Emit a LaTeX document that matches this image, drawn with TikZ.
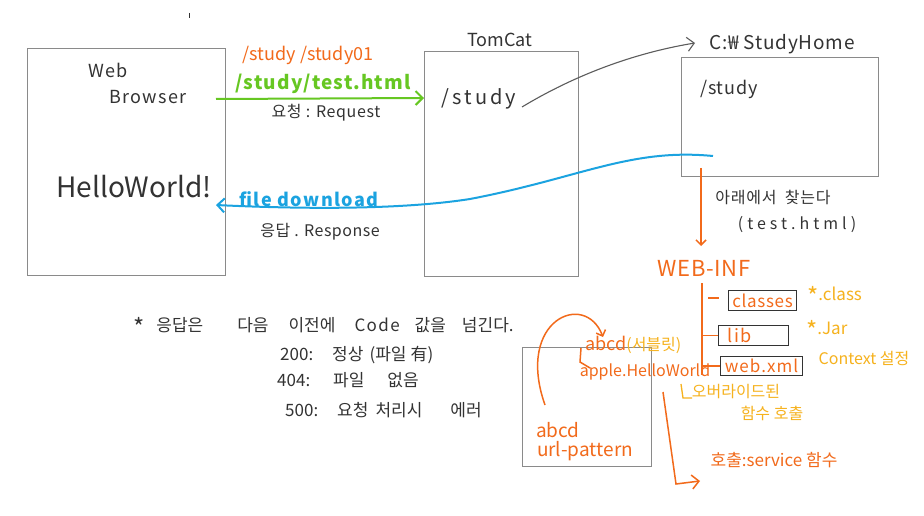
\documentclass[tikz,border=0pt]{standalone}
\usepackage{fontspec}
\newfontfamily\kr{Noto Sans CJK KR}
\usetikzlibrary{arrows.meta}
\definecolor{org}{HTML}{F26A1B}
\definecolor{grn}{HTML}{66C722}
\definecolor{blu}{HTML}{1BA3E0}
\definecolor{ylw}{HTML}{F6B21E}
\definecolor{boxgray}{HTML}{8A8A8A}
\definecolor{ink}{HTML}{333333}
\newcommand{\fs}[1]{\fontsize{#1}{#1}\selectfont}
\newcommand{\ls}[1]{\addfontfeature{LetterSpace=#1}}
\newcommand{\bigstar}{{\fs{24}\raisebox{-5pt}{*}}}
\begin{document}
\begin{tikzpicture}[x=1pt,y=-1pt,
  box/.style={draw=boxgray, line width=1.2pt, inner sep=0pt, anchor=north west},
  sbox/.style={box, draw=ink, line width=1pt},
  hand/.style={font=\kr\fs{17}, text=ink, inner sep=0pt},
  tip/.style={-{Straight Barb[length=7pt,width=14pt]}},
  stip/.style={-{Straight Barb[length=5pt,width=10pt]}},
  oline/.style={org, line width=1.5pt},
  every node/.append style={inner sep=0pt}]
\useasboundingbox[fill=white] (0,0) rectangle (924,516);
% boxes
\node[box, minimum width=198pt, minimum height=227pt] (browser) at (27,48) {};
\node[box, minimum width=154pt, minimum height=225pt] (tomcat) at (424,51) {};
\node[box, minimum width=197pt, minimum height=119pt] (home) at (681,57) {};
\node[box, minimum width=129pt, minimum height=119pt] (servlet) at (522,347) {};
\node[sbox, minimum width=68pt, minimum height=20pt] (classes) at (728,290) {};
\node[sbox, minimum width=70pt, minimum height=20pt] (lib) at (718,325) {};
\node[sbox, minimum width=82pt, minimum height=19pt] (webxml) at (720,356) {};
% stray mark
\draw[ink, line width=0.8pt] (189,13) -- (189,18);
% texts
\node[hand, font=\kr\fs{18}\ls{8}] (web) at (108,70) {Web};
\node[hand, font=\kr\fs{18}\ls{8}] (browsertxt) at (148,97) {Browser};
\node[hand, font=\kr\fs{28}] (hello) at (134,187) {HelloWorld!};
\node[hand, font=\kr\fs{18}] (tomcattxt) at (500,40) {TomCat};
\node[hand, font=\kr\fs{20}\ls{15}] (tstudy) at (479,99) {/study};
\node[hand, font=\kr\fs{19}\ls{4}] (hometxt) at (782,44) {C:₩ StudyHome};
\node[hand, font=\kr\fs{18}\ls{5}] (hstudy) at (729,89) {/study};
\node[hand, text=org, font=\kr\fs{18}] (st01) at (308,55) {/study /study01};
\node[hand, text=grn, font=\kr\bfseries\fs{19}\ls{6}] (sttest) at (323,84) {/study/test.html};
\node[hand, font=\kr\fs{16}\ls{4}] (req) at (326,113) {요청 : Request};
\node[hand, text=blu, font=\kr\bfseries\fs{18}\ls{8}] (fd) at (309,199) {file download};
\node[hand, font=\kr\fs{16}\ls{3}] (resp) at (320,232) {응답 . Response};
\node[hand, font=\kr\fs{16}\ls{5}] (find) at (773,197) {아래에서 \hspace{4pt}찾는다};
\node[hand, font=\kr\fs{16}\ls{25}] (findhtml) at (797,225) {(test.html)};
\node[hand, text=org, font=\kr\fs{22}\ls{3}] (webinf) at (704,268) {WEB-INF};
\node[hand, text=org, font=\kr\fs{17}\ls{4}] at (classes.center) {classes};
\node[hand, text=org, font=\kr\fs{18}\ls{10}, anchor=west] at ([xshift=9pt]lib.west) {lib};
\node[hand, text=org, font=\kr\fs{17}\ls{6}] at (webxml.center) {web.xml};
\node[hand, text=ylw, font=\kr\fs{17}, anchor=west] (cls) at (807,296) {\bigstar.class};
\node[hand, text=ylw, font=\kr\fs{17}, anchor=west] (jar) at (806,330) {\bigstar.Jar};
\node[hand, text=ylw, font=\kr\fs{16}] (ctx) at (864,358) {Context 설정};
\node[hand, text=org, font=\kr\fs{18}, anchor=west] (abcd1) at (585,345) {abcd\textcolor{ylw}{\fs{16}(서블릿)}};
\node[hand, text=org, font=\kr\fs{16}] (apple) at (645,372) {apple.HelloWorld};
\node[hand, text=ylw, font=\kr\fs{16}] (over1) at (736,392) {오버라이드된};
\node[hand, text=ylw, font=\kr\fs{16}] (over2) at (772,413) {함수 호출};
\node[hand, text=org, font=\kr\fs{19}] (abcd2) at (558,430) {abcd};
\node[hand, text=org, font=\kr\fs{19}] (urlp) at (585,451) {url-pattern};
\node[hand, text=org, font=\kr\fs{17}] (svc) at (774,460) {호출:service 함수};
\node[hand, anchor=west] (note) at (133,327) {\bigstar\hspace{12pt}응답은\hspace{34pt}다음\hspace{20pt}이전에\hspace{19pt}{\ls{8}Code}\hspace{15pt}값을\hspace{16pt}넘긴다.};
\node[hand, anchor=west] (c200) at (280,355) {200:\hspace{19pt}정상\hspace{6pt}(파일\hspace{4pt}有)};
\node[hand, anchor=west] (c404) at (277,380) {404:\hspace{23pt}파일\hspace{23pt}없음};
\node[hand, anchor=west] (c500) at (285,410) {500:\hspace{19pt}요청\hspace{7pt}처리시\hspace{28pt}에러};
% connectors
\coordinate (g1) at (216,99);
\coordinate (g2) at (424,98);
\draw[grn, line width=2pt, tip] (g1) -- (g2);
\coordinate (b1) at (713,156);
\coordinate (b2) at (216,205);
\draw[blu, line width=2pt, tip] (b1) .. controls (630,148) and (580,178) .. (470,199) .. controls (400,210) and (300,209) .. (b2);
\coordinate (k1) at (522,107);
\coordinate (k2) at (695,43);
\draw[ink!80, line width=1.1pt, tip] (k1) .. controls (580,72) and (640,52) .. (k2);
\coordinate (o1) at (701,168);
\coordinate (o2) at (701,246);
\draw[oline, stip] (o1) -- (o2);
\coordinate (t1) at (702,283);
\coordinate (t2) at (702,375);
\draw[oline] (t1) -- (t2);
\coordinate (c1) at (708,298);
\coordinate (c2) at (719,298);
\draw[oline] (c1) -- (c2);
\draw[oline] (t1 |- lib.west) -- (lib.west);
\draw[oline] (t1 |- webxml.west) -- (webxml.west);
\coordinate (a1) at (545,405);
\coordinate (a2) at (603,337);
\draw[oline, stip] (a1) .. controls (515,320) and (585,290) .. (a2);
\draw[oline] (581,348) -- (580,362) -- (590,368);
\draw[ylw, line width=1.3pt] (681,384) -- (683,398) -- (692,398);
\coordinate (s1) at (663,392);
\coordinate (s2) at (700,481);
\draw[oline, tip] (s1) -- (676,484) -- (s2);
\end{tikzpicture}
\end{document}
